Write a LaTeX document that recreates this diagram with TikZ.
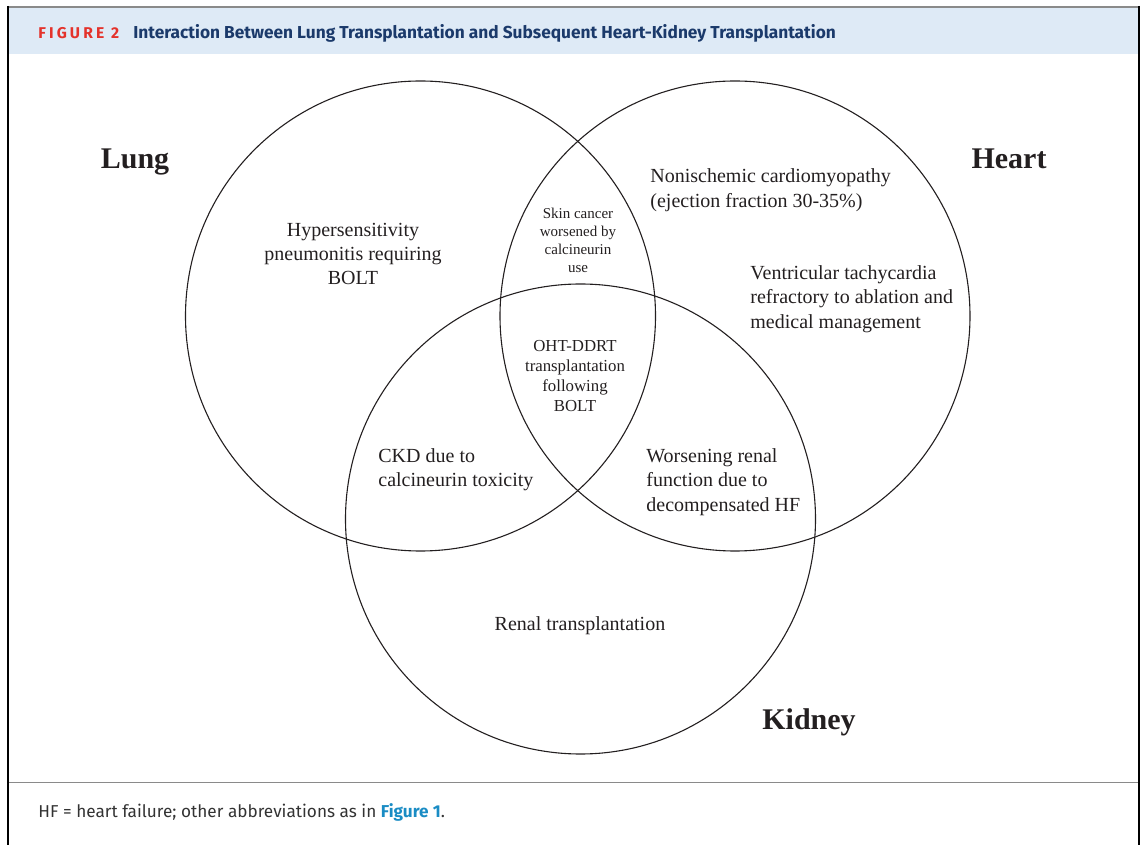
\documentclass[tikz,border=0pt]{standalone}
\usepackage{fontspec}
\setmainfont{Liberation Serif}
\newfontfamily\headfont{Fira Sans}
\usepackage{xcolor}
\definecolor{bandblue}{HTML}{DEEAF6}
\definecolor{figred}{HTML}{E4322B}
\definecolor{titleblue}{HTML}{1B3A6B}
\definecolor{linkblue}{HTML}{1A8CC4}
\definecolor{rulegray}{HTML}{8A8A8A}
\definecolor{inkgray}{HTML}{231F20}
\definecolor{notegray}{HTML}{333333}

\begin{document}
\begin{tikzpicture}[x=0.5pt, y=-0.5pt,
	venn/.style={draw=inkgray, circle, minimum size=235pt, inner sep=0pt, line width=0.55pt},
	organ/.style={font=\fontsize{15}{18}\selectfont\bfseries, text=inkgray, inner sep=0pt, anchor=base},
	finding/.style={font=\fontsize{10}{12.2}\selectfont, text=inkgray, inner sep=0pt},
	lens/.style={font=\fontsize{7.5}{9}\selectfont, text=inkgray, align=center, inner sep=0pt},
	core/.style={font=\fontsize{8.4}{10}\selectfont, text=inkgray, align=center, inner sep=0pt}]
	\useasboundingbox (0,0) rectangle (1142,845);
	\fill[bandblue] (8,8) rectangle (1139,54);
	\draw[rulegray, line width=0.8pt] (8,7) -- (1139,7);
	\draw[rulegray, line width=0.8pt] (8,782.5) -- (1139,782.5);
	\draw[black, line width=1pt] (8,6) -- (8,845);
	\draw[black, line width=1pt] (1139,6) -- (1139,845);
	\node (figno) [anchor=west, inner sep=0pt, text=figred,
		font=\headfont\bfseries\fontsize{7.8}{9}\selectfont\addfontfeature{LetterSpace=20}] at (38,33) {FIGURE 2};
	\node (title) [anchor=west, inner sep=0pt, text=titleblue,
		font=\headfont\bfseries\fontsize{8.65}{10}\selectfont] at (133,33)
		{Interaction Between Lung Transplantation and Subsequent Heart-Kidney Transplantation};
	\node (lung) [venn] at (420.5, 316) {};
	\node (heart) [venn] at (735, 316) {};
	\node (kidney) [venn] at (580.5, 519) {};
	\node (lunglabel) [organ] at (135, 168.5) {Lung};
	\node (heartlabel) [organ] at (1009, 168.5) {Heart};
	\node (kidneylabel) [organ] at (809, 729) {Kidney};
	\node (hp) [finding, align=center] at (353, 254) {Hypersensitivity\\pneumonitis requiring\\BOLT};
	\node (nicm) [finding, align=left, anchor=west, font=\fontsize{10}{12.5}\selectfont] at (650, 190)
		{Nonischemic cardiomyopathy\\(ejection fraction 30-35\%)};
	\node (vt) [finding, align=left, anchor=west] at (750, 299)
		{Ventricular tachycardia\\refractory to ablation and\\medical management};
	\node (skin) [lens] at (578, 240) {Skin cancer\\worsened by\\calcineurin\\use};
	\node (ohtddrt) [core] at (575, 376) {OHT-DDRT\\transplantation\\following\\BOLT};
	\node (ckd) [finding, align=left, anchor=west] at (378, 470) {CKD due to\\calcineurin toxicity};
	\node (renalfx) [finding, align=left, anchor=west] at (646, 482)
		{Worsening renal\\function due to\\decompensated HF};
	\node (renaltx) [finding] at (580, 626) {Renal transplantation};
	\node (note) [anchor=west, inner sep=0pt, text=notegray,
		font=\headfont\fontsize{8.6}{10}\selectfont] at (38, 812)
		{HF = heart failure; other abbreviations as in \textcolor{linkblue}{\bfseries Figure 1}.};
\end{tikzpicture}
\end{document}
